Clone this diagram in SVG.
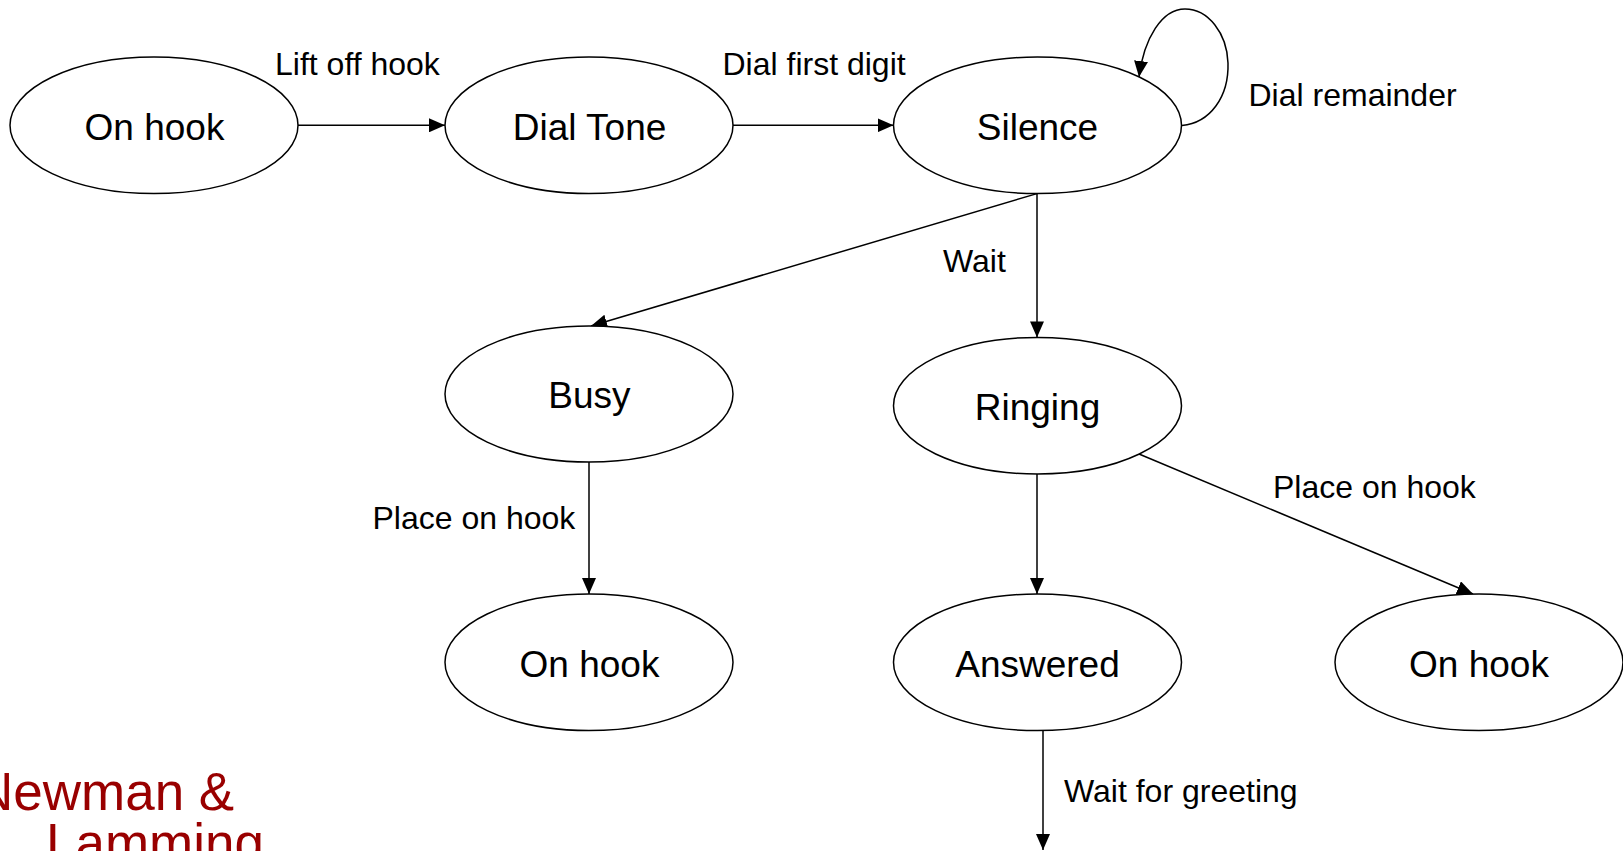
<svg xmlns="http://www.w3.org/2000/svg" width="1623" height="851" viewBox="0 0 1623 851">
<style>
.node ellipse{fill:#fff;stroke:#000;stroke-width:1.5}
.node text{font-family:"Liberation Sans",Arial,sans-serif;font-size:37px;fill:#000;text-anchor:middle}
.lbl{font-family:"Liberation Sans",Arial,sans-serif;font-size:32px;fill:#000}
.edge{fill:none;stroke:#000;stroke-width:1.5;marker-end:url(#arr)}
.credit{font-family:"Liberation Sans",Arial,sans-serif;font-size:53px;fill:#990000}
</style>
<defs>
<marker id="arr" markerUnits="userSpaceOnUse" markerWidth="16" markerHeight="14" refX="16" refY="7" orient="auto" viewBox="0 0 16 14">
<path d="M0,0 L16,7 L0,14 z" fill="#000"/>
</marker>
</defs>
<rect width="1623" height="851" fill="#fff"/>
<g id="connectors">
<path class="edge" d="M298,125.3 L445,125.3"/>
<path class="edge" d="M733,125.3 L893.5,125.3"/>
<path class="edge" d="M1182,125.5 C1210,123 1229,97 1228,63 C1227,33 1208,9 1185,9 C1162,9 1144,38 1139,77"/>
<path class="edge" d="M1037,193.6 L591,326"/>
<path class="edge" d="M1037,193.6 L1037,337.4"/>
<path class="edge" d="M589,462 L589,594"/>
<path class="edge" d="M1037,474 L1037,594"/>
<path class="edge" d="M1139,454 L1473,594"/>
<path class="edge" d="M1043,731 L1043,850"/>
</g>
<g id="labels">
<text class="lbl" x="275" y="75">Lift off hook</text>
<text class="lbl" x="722.5" y="75">Dial first digit</text>
<text class="lbl" x="1248.5" y="106">Dial remainder</text>
<text class="lbl" x="943" y="272">Wait</text>
<text class="lbl" x="372.5" y="529">Place on hook</text>
<text class="lbl" x="1273" y="498">Place on hook</text>
<text class="lbl" x="1064" y="802">Wait for greeting</text>
</g>
<g id="n_onhook1" class="node"><ellipse cx="154" cy="125.3" rx="144" ry="68.3"/><text x="154.5" y="139.5">On hook</text></g>
<g id="n_dialtone" class="node"><ellipse cx="589" cy="125.3" rx="144" ry="68.3"/><text x="589.5" y="139.5">Dial Tone</text></g>
<g id="n_silence" class="node"><ellipse cx="1037.5" cy="125.3" rx="144" ry="68.3"/><text x="1037.5" y="139.5">Silence</text></g>
<g id="n_busy" class="node"><ellipse cx="589" cy="394" rx="144" ry="68"/><text x="589.5" y="408">Busy</text></g>
<g id="n_ringing" class="node"><ellipse cx="1037.5" cy="405.7" rx="144" ry="68.3"/><text x="1037.5" y="420">Ringing</text></g>
<g id="n_onhook2" class="node"><ellipse cx="589" cy="662.3" rx="144" ry="68.3"/><text x="589.5" y="677">On hook</text></g>
<g id="n_answered" class="node"><ellipse cx="1037.5" cy="662.3" rx="144" ry="68.3"/><text x="1037.5" y="677">Answered</text></g>
<g id="n_onhook3" class="node"><ellipse cx="1479" cy="662.3" rx="144" ry="68.3"/><text x="1479" y="677">On hook</text></g>
<g id="credit">
<text class="credit" x="-25" y="810">Newman &amp;</text>
<text class="credit" x="46" y="861">Lamming</text>
</g>
</svg>
